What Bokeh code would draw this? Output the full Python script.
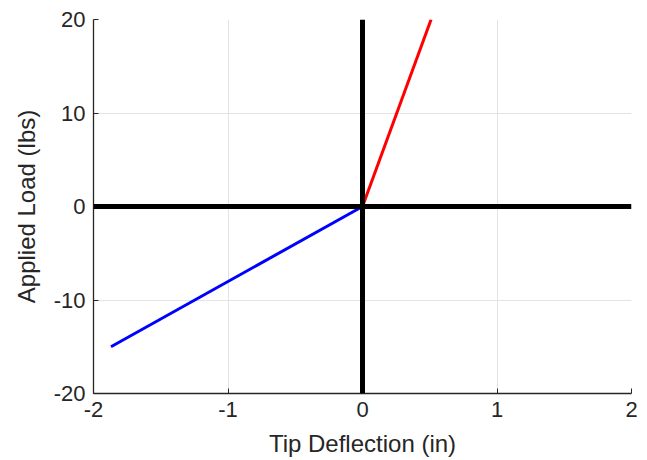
from bokeh.plotting import figure
from bokeh.models import Span, Range1d, FixedTicker
from bokeh.embed import file_html
from bokeh.resources import INLINE

# Data
loading_x = [0.0, 0.51]      # positive load branch (red)
loading_y = [0.0, 20.0]
unloading_x = [-1.87, 0.0]   # negative load branch (blue)
unloading_y = [-15.0, 0.0]
x_ticks = [-2, -1, 0, 1, 2]
y_ticks = [-20, -10, 0, 10, 20]
x_tick_labels = ["-2", "-1", "0", "1", "2"]
y_tick_labels = ["-20", "-10", "0", "10", "20"]

p = figure(width=640, height=459, output_backend="svg", toolbar_location=None,
           x_range=Range1d(-2, 2), y_range=Range1d(-20, 20),
           min_border_left=93, min_border_right=9, min_border_top=19, min_border_bottom=65)
p.outline_line_color = None
p.background_fill_color = "white"
p.border_fill_color = "white"

for ax, ticks, labels in ((p.xaxis, x_ticks, x_tick_labels), (p.yaxis, y_ticks, y_tick_labels)):
    ax.ticker = FixedTicker(ticks=ticks)
    ax.major_label_overrides = {t: l for t, l in zip(ticks, labels)}
    ax.major_tick_in = 5
    ax.major_tick_out = 0
    ax.minor_tick_line_color = None
    ax.axis_line_color = "#262626"
    ax.axis_line_width = 1.3
    ax.major_tick_line_color = "#262626"
    ax.major_label_text_font = "Liberation Sans"
    ax.major_label_text_font_size = "22px"
    ax.major_label_text_color = "#262626"
    ax.axis_label_text_font = "Liberation Sans"
    ax.axis_label_text_font_size = "24px"
    ax.axis_label_text_font_style = "normal"
    ax.axis_label_text_color = "#262626"

p.xaxis.axis_label = "Tip Deflection (in)"
p.yaxis.axis_label = "Applied Load (lbs)"
p.xaxis.major_label_standoff = 8
p.yaxis.major_label_standoff = 8
p.xaxis.axis_label_standoff = 10
p.yaxis.axis_label_standoff = 11

p.xgrid.ticker = FixedTicker(ticks=x_ticks)
p.ygrid.ticker = FixedTicker(ticks=y_ticks)
p.grid.grid_line_color = "#e3e3e3"
p.grid.grid_line_width = 1

p.add_layout(Span(location=0, dimension="width", line_color="black", line_width=5))
p.add_layout(Span(location=0, dimension="height", line_color="black", line_width=5))

p.line(loading_x, loading_y, line_color="#ff0000", line_width=3)
p.line(unloading_x, unloading_y, line_color="#0000ff", line_width=3)

open("out.html", "w").write(file_html(p, INLINE))
